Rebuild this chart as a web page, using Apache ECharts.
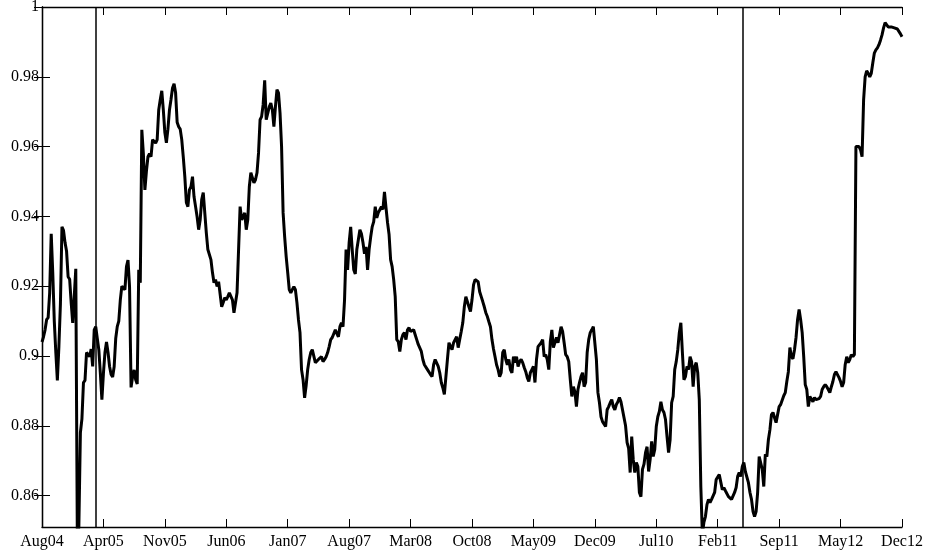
<!DOCTYPE html>
<html>
<head>
<meta charset="utf-8">
<script src="https://cdn.jsdelivr.net/npm/echarts@6/dist/echarts.min.js"></script>
<style>
html,body{margin:0;padding:0;background:#fff;}
#chart{width:925px;height:553px;}
</style>
</head>
<body>
<div id="chart"></div>
<script>
// x tick labels (15 equally spaced ticks over the sample)
const tickLabels = ['Aug04','Apr05','Nov05','Jun06','Jan07','Aug07','Mar08','Oct08','May09','Dec09','Jul10','Feb11','Sep11','May12','Dec12'];
// y tick values
const yTicks = [0.86, 0.88, 0.90, 0.92, 0.94, 0.96, 0.98, 1];
// positions of the two vertical event lines (in sample steps, 40 steps per tick)
const eventLines = [35.2, 456];
// series values, one every 1/40 of a tick spacing
const values = [
0.904,0.9055,0.9075,0.9104,0.911,0.9181,0.935,0.9239,0.910,0.901,0.893,0.9027,0.915,0.937,0.936,0.9325,0.930,0.9227,0.922,0.9153,
0.9095,0.917,0.925,0.848,0.851,0.878,0.882,0.8924,0.893,0.901,0.901,0.8998,0.902,0.897,0.9075,0.9084,0.905,0.9018,0.895,0.8875,
0.895,0.901,0.904,0.901,0.897,0.8947,0.894,0.897,0.905,0.9084,0.910,0.9161,0.920,0.9199,0.919,0.9256,0.9275,0.9199,0.891,0.8941,
0.896,0.8932,0.892,0.9247,0.921,0.9648,0.958,0.9476,0.953,0.9571,0.958,0.9571,0.962,0.9625,0.961,0.962,0.9705,0.9734,0.976,0.9705,
0.964,0.9611,0.965,0.9705,0.9735,0.9768,0.978,0.9754,0.967,0.9657,0.965,0.962,0.957,0.9514,0.944,0.9428,0.9476,0.9485,0.9514,0.9456,
0.9428,0.9399,0.9362,0.939,0.9448,0.9468,0.9468,0.9353,0.9305,0.9305,0.9276,0.9239,0.921,0.9219,0.9199,0.9213,0.921,0.9141,0.9153,0.9167,
0.9161,0.917,0.9181,0.9181,0.9161,0.9124,0.9124,0.9181,0.9181,0.9428,0.939,0.9399,0.941,0.9362,0.939,0.9485,0.9525,0.9511,0.9496,0.9505,
0.9525,0.9582,0.9677,0.9686,0.972,0.979,0.9677,0.9677,0.9714,0.9725,0.9705,0.9657,0.9714,0.9763,0.9754,0.9696,0.960,0.941,0.9342,0.9285,
0.9239,0.919,0.9181,0.919,0.9199,0.919,0.9153,0.9104,0.9067,0.8961,0.8932,0.888,0.8915,0.8961,0.899,0.901,0.9018,0.9018,0.8981,0.8981,
0.899,0.899,0.8998,0.8984,0.899,0.8998,0.901,0.9027,0.9047,0.9053,0.9055,0.9075,0.908,0.9055,0.9084,0.9095,0.9084,0.916,0.9305,0.9247,
0.9325,0.937,0.9305,0.9247,0.9235,0.9305,0.9305,0.9362,0.935,0.9325,0.9293,0.9313,0.9247,0.9305,0.934,0.937,0.9385,0.9428,0.9396,0.9411,
0.9419,0.9428,0.942,0.947,0.9425,0.9382,0.9348,0.9276,0.9256,0.9219,0.917,0.9047,0.9041,0.9013,0.9047,0.9061,0.9067,0.9047,0.9075,0.9081,
0.907,0.907,0.9075,0.9061,0.9047,0.9033,0.9038,0.9013,0.899,0.8975,0.897,0.8961,0.8961,0.8947,0.8941,0.8975,0.899,0.899,0.897,0.8952,
0.8924,0.8909,0.889,0.8895,0.899,0.9038,0.9038,0.9018,0.9038,0.9033,0.9055,0.9024,0.9047,0.907,0.9095,0.9141,0.917,0.917,0.9141,0.9127,
0.9161,0.9204,0.9219,0.9224,0.9213,0.9184,0.917,0.9156,0.9141,0.9124,0.9113,0.9098,0.9084,0.9047,0.902,0.8998,0.8975,0.8961,0.8941,0.8952,
0.901,0.9018,0.899,0.8975,0.899,0.8961,0.8952,0.8998,0.8981,0.8998,0.897,0.8984,0.899,0.8981,0.8967,0.8955,0.8938,0.8927,0.8952,0.8961,
0.897,0.8924,0.899,0.9027,0.9024,0.9038,0.9047,0.8998,0.9004,0.899,0.8961,0.9041,0.9075,0.9024,0.9027,0.9053,0.9038,0.9061,0.9084,0.907,
0.9038,0.9004,0.8998,0.8984,0.8932,0.8884,0.8912,0.8898,0.8855,0.8904,0.8924,0.8941,0.8952,0.8912,0.8924,0.901,0.9047,0.9067,0.9075,0.9084,
0.9081,0.899,0.8895,0.8866,0.8826,0.8812,0.8809,0.8798,0.8846,0.8855,0.8866,0.8875,0.8855,0.8846,0.8861,0.8869,0.8881,0.8869,0.8846,0.8823,
0.880,0.8752,0.8735,0.8666,0.8769,0.8703,0.8666,0.8695,0.8683,0.8609,0.8597,0.8675,0.869,0.8723,0.874,0.8669,0.8703,0.8755,0.8712,0.8732,
0.8798,0.8826,0.8841,0.8869,0.8846,0.8838,0.8818,0.8769,0.8723,0.876,0.8866,0.8884,0.8961,0.8984,0.9018,0.9067,0.9095,0.901,0.8932,0.8941,
0.897,0.8961,0.8998,0.8984,0.8912,0.897,0.8981,0.8952,0.8875,0.8626,0.849,0.8523,0.854,0.8574,0.8589,0.858,0.8589,0.8594,0.8609,0.8646,
0.8646,0.866,0.8655,0.8617,0.8623,0.8614,0.8609,0.8597,0.8597,0.8589,0.8594,0.8609,0.8623,0.8655,0.8666,0.8655,0.8683,0.8695,0.8669,0.8669,
0.8637,0.8609,0.8589,0.8554,0.854,0.8554,0.8609,0.8712,0.8712,0.8675,0.8626,0.8718,0.8712,0.876,0.8789,0.8832,0.8838,0.8823,0.8809,0.8832,
0.8855,0.8861,0.8861,0.8886,0.8895,0.8927,0.8955,0.9024,0.8998,0.8992,0.9018,0.9053,0.9104,0.9133,0.9104,0.9067,0.8998,0.8918,0.8904,0.8855,
0.8884,0.8884,0.8869,0.8881,0.8875,0.8875,0.8878,0.8884,0.8904,0.8912,0.8918,0.8912,0.8904,0.8895,0.8912,0.8927,0.8947,0.8955,0.8952,0.8938,
0.8927,0.8912,0.8924,0.8975,0.8998,0.8981,0.899,0.9004,0.8998,0.9004,0.960,0.9597,0.960,0.9591,0.9571,0.9734,0.980,0.9817,0.981,0.980,
0.981,0.984,0.9868,0.9877,0.9883,0.9892,0.9905,0.992,0.994,0.9955,0.9954,0.9943,0.994,0.9943,0.994,0.994,0.994,0.9937,0.994,0.9923,
0.9915
];

const stepsPerTick = 40;
const xMax = (tickLabels.length - 1) * stepsPerTick;
const seriesData = values.map((v, i) => [i, v]);

const FONT = 'Liberation Serif';
const axisLineStyle = { show: true, lineStyle: { color: '#000', width: 1.3 } };
const tickStyle = { color: '#000', width: 1 };

const chart = echarts.init(document.getElementById('chart'), null, { renderer: 'canvas' });
chart.setOption({
  animation: false,
  backgroundColor: '#fff',
  grid: { left: 42, right: 23, top: 7, bottom: 26, containLabel: false, outerBoundsMode: 'none' },
  xAxis: [
    {
      type: 'value', min: 0, max: xMax, interval: stepsPerTick, position: 'bottom',
      axisLine: axisLineStyle, splitLine: { show: false },
      axisTick: { show: true, inside: true, length: 8, lineStyle: tickStyle },
      axisLabel: {
        show: true, color: '#000', fontFamily: FONT, fontSize: 16, margin: 7,
        showMinLabel: true, showMaxLabel: true,
        formatter: v => tickLabels[Math.round(v / stepsPerTick)] || ''
      }
    },
    {
      type: 'value', min: 0, max: xMax, interval: stepsPerTick, position: 'top',
      axisLine: axisLineStyle, splitLine: { show: false },
      axisTick: { show: true, inside: true, length: 8, lineStyle: tickStyle },
      axisLabel: { show: false }
    }
  ],
  yAxis: [
    {
      type: 'value', min: 0.851, max: 1, position: 'left',
      axisLine: axisLineStyle, splitLine: { show: false },
      axisLabel: {
        show: true, color: '#000', fontFamily: FONT, fontSize: 16, margin: 3,
        customValues: yTicks,
        formatter: v => String(parseFloat(v.toFixed(2)))
      },
      axisTick: { show: true, inside: true, length: 8, customValues: yTicks, lineStyle: tickStyle }
    },
    {
      type: 'value', min: 0.851, max: 1, position: 'right',
      axisLine: axisLineStyle, splitLine: { show: false },
      axisLabel: { show: false },
      axisTick: { show: true, inside: true, length: 8, customValues: yTicks, lineStyle: tickStyle }
    }
  ],
  series: [{
    type: 'line',
    data: seriesData,
    xAxisIndex: 0, yAxisIndex: 0,
    showSymbol: false,
    clip: true,
    lineStyle: { color: '#000', width: 3 },
    markLine: {
      silent: true,
      symbol: ['none', 'none'],
      label: { show: false },
      lineStyle: { color: '#000', width: 1.5, type: 'solid' },
      data: eventLines.map(x => ({ xAxis: x }))
    }
  }]
});
</script>
</body>
</html>
